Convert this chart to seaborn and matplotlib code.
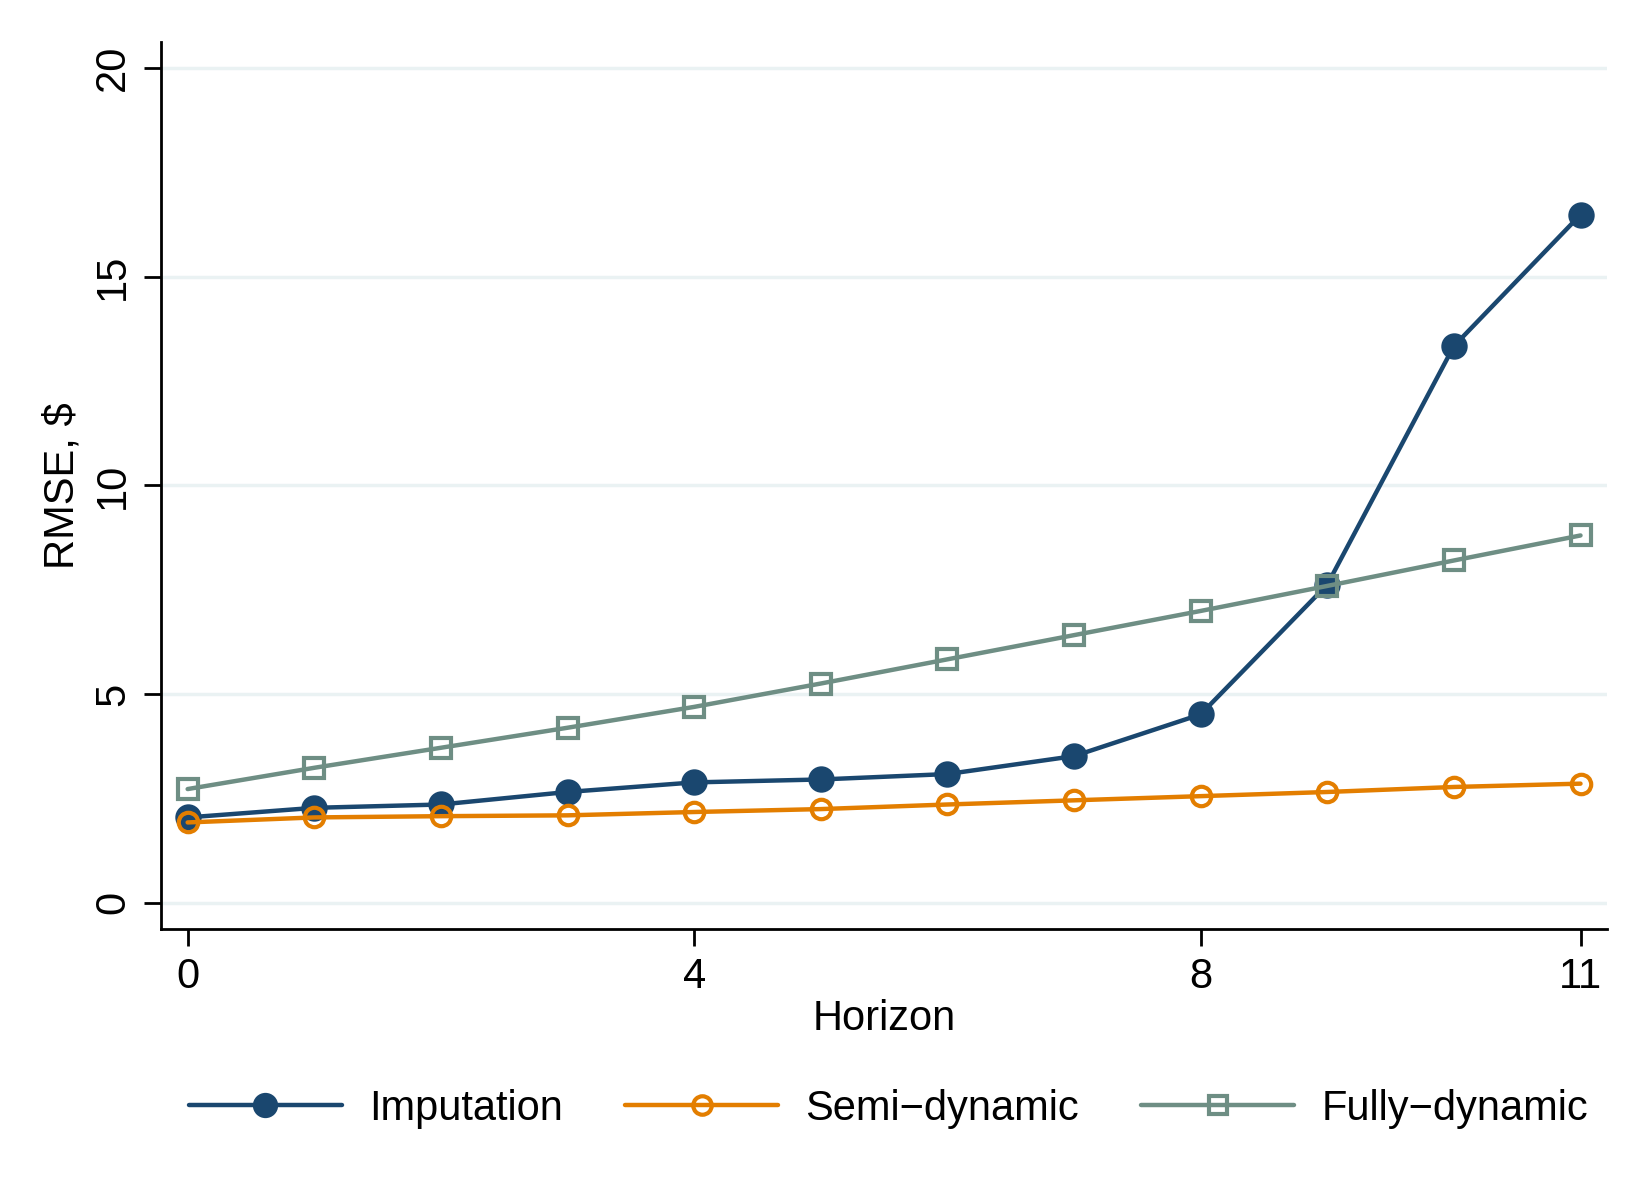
import numpy as np
import pandas as pd
import matplotlib
matplotlib.use("Agg")
import matplotlib.pyplot as plt
import seaborn as sns

horizon = list(range(12))
imputation = [2.04, 2.27, 2.35, 2.65, 2.88, 2.95, 3.08, 3.51, 4.51, 7.62, 13.34, 16.49]
semi_dynamic = [1.92, 2.04, 2.07, 2.09, 2.17, 2.24, 2.35, 2.45, 2.55, 2.65, 2.77, 2.85]
fully_dynamic = [2.72, 3.23, 3.71, 4.19, 4.69, 5.25, 5.83, 6.41, 6.99, 7.59, 8.20, 8.80]

x_ticks = [0, 4, 8, 11]
y_ticks = [0, 5, 10, 15, 20]

sns.set_theme(style="white")
plt.rcParams['font.family'] = ['Liberation Sans', 'DejaVu Sans']
plt.rcParams['text.color'] = 'black'
plt.rcParams['axes.labelcolor'] = 'black'
plt.rcParams['xtick.color'] = 'black'
plt.rcParams['ytick.color'] = 'black'

fig = plt.figure(figsize=(16.5, 12), dpi=100)
ax = fig.add_axes([0.0976, 0.226, 0.8764, 0.739])

series = [
    ("Imputation", imputation, "#1a476f", "o", "#1a476f", 16),
    ("Semi\u2212dynamic", semi_dynamic, "#e37e00", "o", "none", 14),
    ("Fully\u2212dynamic", fully_dynamic, "#6e8e84", "s", "none", 14),
]

for name, vals, col, mk, face, ms in series:
    df = pd.DataFrame({"Horizon": horizon, "RMSE": vals})
    sns.lineplot(data=df, x="Horizon", y="RMSE", ax=ax, color=col, linewidth=3.2,
                 marker=mk, markersize=ms, markerfacecolor=face, markeredgecolor=col,
                 markeredgewidth=3.0, label=name)

for y in y_ticks:
    ax.axhline(y, color="#eaf2f3", linewidth=2.5, zorder=0)

ax.set_xlim(-0.21, 11.21)
ax.set_ylim(-0.63, 20.63)
ax.set_xticks(x_ticks)
ax.set_yticks(y_ticks)
ax.set_yticklabels([str(v) for v in y_ticks], rotation=90, va="center")
ax.tick_params(axis="both", direction="out", length=12, width=2, labelsize=30,
               color="black", labelcolor="black", pad=8, left=True, bottom=True)
for s in ["top", "right"]:
    ax.spines[s].set_visible(False)
for s in ["left", "bottom"]:
    ax.spines[s].set_color("black")
    ax.spines[s].set_linewidth(2)

ax.set_xlabel("Horizon", fontsize=30, labelpad=2, color="black")
ax.set_ylabel("RMSE, $", fontsize=30, labelpad=8, color="black")

ax.legend(loc="upper center", bbox_to_anchor=(0.503, -0.138), ncol=3, frameon=False,
          fontsize=30, handlelength=3.67, markerscale=0.95, columnspacing=1.5,
          handletextpad=0.65)

fig.savefig("out.png", dpi=100, facecolor="white")
